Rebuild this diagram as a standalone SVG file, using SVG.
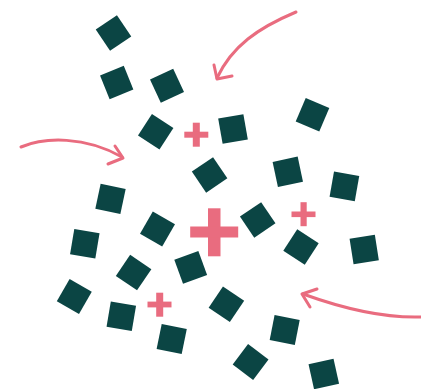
<svg xmlns="http://www.w3.org/2000/svg" width="421" height="389" viewBox="0 0 421 389">
<style>
.sq{fill:#0b4544}
.pl{fill:#e96c7f}
.ar{fill:none;stroke:#e96c7f;stroke-width:3;stroke-linecap:round;stroke-linejoin:round}
</style>
<defs>
<rect id="s" x="-12.8" y="-12.8" width="25.6" height="25.6"/>
</defs>
<rect width="421" height="389" fill="#ffffff"/>
<g id="nodes" class="sq">
<use id="n1" href="#s" transform="translate(113.5,33) rotate(-34)"/>
<use id="n2" href="#s" transform="translate(116.7,82.5) rotate(-22)"/>
<use id="n3" href="#s" transform="translate(167,85.7) rotate(-25)"/>
<use id="n4" href="#s" transform="translate(155.7,131.7) rotate(33)"/>
<use id="n5" href="#s" transform="translate(233,129) rotate(-10)"/>
<use id="n6" href="#s" transform="translate(312.5,114.8) rotate(23)"/>
<use id="n7" href="#s" transform="translate(209.6,174.9) rotate(-34)"/>
<use id="n8" href="#s" transform="translate(287.8,171.8) rotate(-12)"/>
<use id="n9" href="#s" transform="translate(344.4,186.3) rotate(10)"/>
<use id="n10" href="#s" transform="translate(110.5,198.9) rotate(12)"/>
<use id="n11" href="#s" transform="translate(157.5,229) rotate(30)"/>
<use id="n12" href="#s" transform="translate(84.8,243.7) rotate(9.5)"/>
<use id="n13" href="#s" transform="translate(257.7,219.9) rotate(-34)"/>
<use id="n14" href="#s" transform="translate(301,247) rotate(33)"/>
<use id="n15" href="#s" transform="translate(364.2,249.5) rotate(-9)"/>
<use id="n16" href="#s" transform="translate(133.6,272.6) rotate(34)"/>
<use id="n17" href="#s" transform="translate(190.7,267.3) rotate(-20)"/>
<use id="n18" href="#s" transform="translate(74.3,296.5) rotate(30)"/>
<use id="n19" href="#s" transform="translate(121.3,316.3) rotate(9.6)"/>
<use id="n20" href="#s" transform="translate(171.7,339) rotate(11.5)"/>
<use id="n21" href="#s" transform="translate(226.4,304.2) rotate(34)"/>
<use id="n22" href="#s" transform="translate(284.7,330) rotate(11)"/>
<use id="n23" href="#s" transform="translate(250.6,362) rotate(37)"/>
<use id="n24" href="#s" transform="translate(323.8,374) rotate(-12.5)"/>
</g>
<g id="plus-signs" class="pl">
<g id="p1"><rect x="192.8" y="122.7" width="7" height="24"/><rect x="184.3" y="131.7" width="24" height="6"/></g>
<g id="p2"><rect x="208" y="208.3" width="12.5" height="48"/><rect x="190.2" y="226.5" width="48" height="11"/></g>
<g id="p3"><rect x="300.5" y="202.2" width="6.2" height="24"/><rect x="291.5" y="211.5" width="24" height="5.6"/></g>
<g id="p4"><rect x="156.2" y="292.7" width="7" height="24"/><rect x="147.5" y="301.6" width="24" height="5.8"/></g>
</g>
<g id="connectors" class="ar">
<path d="M296,12 C258,28 232,46 217,78"/>
<path d="M214,65 L217,79 L232,76"/>
<path d="M21,147 C45,137 85,136 122,157"/>
<path d="M115,146 L123,158 L108,164"/>
<path d="M421,317 C390,318 350,311 303,294"/>
<path d="M317,289 L302,294 L310,307"/>
</g>
</svg>
